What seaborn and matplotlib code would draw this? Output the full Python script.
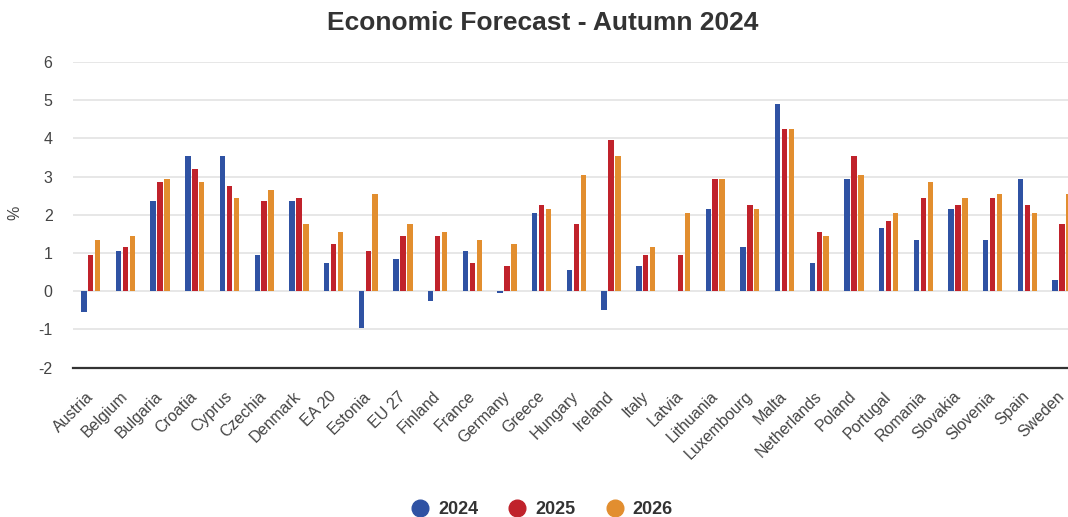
import numpy as np
import pandas as pd
import seaborn as sns
import matplotlib.pyplot as plt
from matplotlib.lines import Line2D

# ======================================
# DATA
# ======================================
countries = [
    "Austria", "Belgium", "Bulgaria", "Croatia", "Cyprus", "Czechia", "Denmark",
    "EA 20", "Estonia", "EU 27", "Finland", "France", "Germany", "Greece",
    "Hungary", "Ireland", "Italy", "Latvia", "Lithuania", "Luxembourg", "Malta",
    "Netherlands", "Poland", "Portugal", "Romania", "Slovakia", "Slovenia",
    "Spain", "Sweden",
]
years = ["2024", "2025", "2026"]
gdp_2024 = [-0.55, 1.05, 2.35, 3.55, 3.55, 0.95, 2.35, 0.75, -0.95, 0.85, -0.25,
            1.05, -0.05, 2.05, 0.55, -0.5, 0.65, 0.0, 2.15, 1.15, 4.9, 0.75, 2.95,
            1.65, 1.35, 2.15, 1.35, 2.95, 0.3]
gdp_2025 = [0.95, 1.15, 2.85, 3.2, 2.75, 2.35, 2.45, 1.25, 1.05, 1.45, 1.45,
            0.75, 0.65, 2.25, 1.75, 3.95, 0.95, 0.95, 2.95, 2.25, 4.25, 1.55, 3.55,
            1.85, 2.45, 2.25, 2.45, 2.25, 1.75]
gdp_2026 = [1.35, 1.45, 2.95, 2.85, 2.45, 2.65, 1.75, 1.55, 2.55, 1.75, 1.55,
            1.35, 1.25, 2.15, 3.05, 3.55, 1.15, 2.05, 2.95, 2.15, 4.25, 1.45, 3.05,
            2.05, 2.85, 2.45, 2.55, 2.05, 2.55]
colors = ["#2f52a3", "#c0222b", "#e28e2f"]

df = pd.DataFrame({
    "country": countries * 3,
    "year": [y for y in years for _ in countries],
    "value": gdp_2024 + gdp_2025 + gdp_2026,
})

# ======================================
# PLOT
# ======================================
sns.set_theme(style="white")
plt.rcParams["font.family"] = ["Liberation Sans", "DejaVu Sans"]
plt.rcParams["axes.unicode_minus"] = False

W, H = 1068, 517
fig = plt.figure(figsize=(W / 100, H / 100), dpi=100)
# plot area runs past the right edge, like the cropped original
left, right, top, bottom = 73.4, 73.4 + 29 * 34.69, 62, 367.7
ax = fig.add_axes([left / W, 1 - bottom / H, (right - left) / W, (bottom - top) / H])

sns.barplot(data=df, x="country", y="value", hue="year", palette=colors,
            width=0.6, gap=0.22, saturation=1, linewidth=0, ax=ax, legend=False)

ax.set_ylim(-2, 6)
ax.set_xlim(-0.5, len(countries) - 0.5)
ax.set_yticks(range(-2, 7))
ax.yaxis.grid(True, color="#e3e3e3", linewidth=1.2)
ax.set_axisbelow(True)
for s in ["top", "right", "left"]:
    ax.spines[s].set_visible(False)
ax.spines["bottom"].set_color("#333333")
ax.spines["bottom"].set_linewidth(1.6)

ax.tick_params(axis="y", length=0, pad=15, labelsize=11.5, labelcolor="#444444")
ax.tick_params(axis="x", length=0, pad=19, labelsize=11.5, labelcolor="#444444")
plt.setp(ax.get_xticklabels(), rotation=45, ha="right", va="center",
         rotation_mode="anchor")
ax.set_xlabel("")
ax.set_ylabel("")
fig.text(15 / W, 1 - 213 / H, "%", rotation=90, ha="center", va="center",
         fontsize=11.5, color="#444444")

fig.text(543 / W, 1 - 23 / H, "Economic Forecast - Autumn 2024", ha="center",
         va="center", fontsize=19, fontweight="bold", color="#333333")

handles = [Line2D([], [], marker="o", linestyle="", markersize=12,
                  markerfacecolor=c, markeredgecolor=c) for c in colors]
fig.legend(handles, years, loc="center", bbox_to_anchor=(542 / W, 1 - 510 / H),
           ncol=3, frameon=False, handlelength=1.0, handletextpad=0.5,
           columnspacing=1.67, borderpad=0,
           prop={"weight": "bold", "size": 13}, labelcolor="#333333")

fig.savefig("out.png", dpi=100)
